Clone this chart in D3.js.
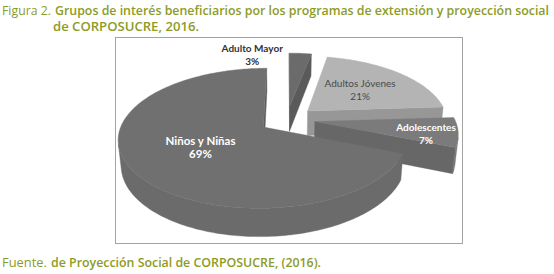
<!DOCTYPE html>
<html lang="es">
<head>
<meta charset="UTF-8">
<title>Figura 2</title>
<script src="https://d3js.org/d3.v7.min.js"></script>
<style>
  body { margin: 0; background: #fff; }
  svg { display: block; }
</style>
</head>
<body>
<div id="chart"></div>
<script>
const categories = ["Adulto Mayor", "Adultos Jóvenes", "Adolescentes", "Niños y Niñas"];
const values = [3, 21, 7, 69];
const percentLabels = ["3%", "21%", "7%", "69%"];

const topColors = ["#6b6b6b", "#b4b4b4", "#7b7b7b", "#707070"];
const labelColors = ["#333333", "#4a4a4a", "#ffffff", "#ffffff"];
const labelWeights = ["bold", "normal", "bold", "bold"];
const labelRadius = [1.0, 0.55, 0.78, 0.5];
const labelShift = [0, 0, 3, 0];

const width = 554, height = 274;
const olive = "#8d9b27";

const svg = d3.select("#chart").append("svg")
    .attr("width", width)
    .attr("height", height);

// title
svg.append("text")
    .attr("x", 2).attr("y", 14.5)
    .attr("fill", olive)
    .style("font-family", "'Open Sans', sans-serif")
    .style("font-size", "12px")
    .attr("textLength", 49)
    .attr("lengthAdjust", "spacingAndGlyphs")
    .text("Figura 2.");

svg.append("text")
    .attr("x", 55).attr("y", 14.5)
    .attr("fill", olive)
    .attr("font-weight", 600)
    .style("font-family", "'Open Sans', sans-serif")
    .style("font-size", "12px")
    .attr("textLength", 494)
    .attr("lengthAdjust", "spacingAndGlyphs")
    .text("Grupos de interés beneficiarios por los programas de extensión y proyección social");

svg.append("text")
    .attr("x", 53).attr("y", 31)
    .attr("fill", olive)
    .attr("font-weight", 600)
    .style("font-family", "'Open Sans', sans-serif")
    .style("font-size", "12px")
    .attr("textLength", 146)
    .attr("lengthAdjust", "spacingAndGlyphs")
    .text("de CORPOSUCRE, 2016.");

// footer
svg.append("text")
    .attr("x", 2).attr("y", 267)
    .attr("fill", olive)
    .style("font-family", "'Open Sans', sans-serif")
    .style("font-size", "12px")
    .attr("textLength", 45)
    .attr("lengthAdjust", "spacingAndGlyphs")
    .text("Fuente.");

svg.append("text")
    .attr("x", 51).attr("y", 267)
    .attr("fill", olive)
    .attr("font-weight", 600)
    .style("font-family", "'Open Sans', sans-serif")
    .style("font-size", "12px")
    .attr("textLength", 270)
    .attr("lengthAdjust", "spacingAndGlyphs")
    .text("de Proyección Social de CORPOSUCRE, (2016).");

// chart frame
svg.append("rect")
    .attr("x", 115.5).attr("y", 37.5)
    .attr("width", 347).attr("height", 206)
    .attr("fill", "none")
    .attr("stroke", "#a3a3a3")
    .attr("stroke-width", 1);

// 3D projection of the pie
const cam = { phi: 28 * Math.PI / 180, D: 5.6, F: 785, cx: 287, cy: 119.5 };
const thick = 0.205, explode = 0.2;
const camPos = [0, cam.D * Math.sin(cam.phi), cam.D * Math.cos(cam.phi)];

function project(x, y, z) {
    const c = Math.cos(cam.phi), s = Math.sin(cam.phi);
    const yc = y * c - z * s;
    const zc = y * s + z * c;
    const k = cam.F / (cam.D - zc);
    return [cam.cx + x * k, cam.cy - yc * k];
}

function visible(normal, p) {
    const v = [camPos[0] - p[0], camPos[1] - p[1], camPos[2] - p[2]];
    return normal[0] * v[0] + normal[1] * v[1] + normal[2] * v[2] > 0;
}

const pie = d3.pie().sort(null).value(d => d)(values);
const line = d3.line();

const slices = pie.map((a, i) => {
    const mid = (a.startAngle + a.endAngle) / 2;
    return {
        i, a0: a.startAngle, a1: a.endAngle, mid,
        ox: explode * Math.sin(mid), oz: -explode * Math.cos(mid)
    };
});

function pt(s, r, th, y) {
    return [s.ox + r * Math.sin(th), y, s.oz - r * Math.cos(th)];
}

const g = svg.append("g");

// far slices first
slices.slice().sort((p, q) => p.oz - q.oz).forEach(s => {
    const base = d3.color(topColors[s.i]);
    const sg = g.append("g");

    // radial faces
    [[s.a0, [-Math.cos(s.a0), 0, -Math.sin(s.a0)]],
     [s.a1, [Math.cos(s.a1), 0, Math.sin(s.a1)]]].forEach(([th, n]) => {
        const c = pt(s, 0, 0, 0), o = pt(s, 1, th, 0);
        const ctr = [(c[0] + o[0]) / 2, -thick / 2, (c[2] + o[2]) / 2];
        if (!visible(n, ctr)) return;
        const poly = [pt(s, 0, 0, 0), pt(s, 1, th, 0), pt(s, 1, th, -thick), pt(s, 0, 0, -thick)]
            .map(p => project(...p));
        sg.append("path").attr("d", line(poly) + "Z")
            .attr("fill", base.darker(0.5))
            .attr("stroke", base.darker(0.5)).attr("stroke-width", 0.4);
    });

    // outer wall, visible runs only
    const n = Math.max(8, Math.ceil((s.a1 - s.a0) / 0.02));
    let run = [];
    const runs = [];
    for (let k = 0; k < n; k++) {
        const t0 = s.a0 + (s.a1 - s.a0) * k / n;
        const t1 = s.a0 + (s.a1 - s.a0) * (k + 1) / n;
        const tm = (t0 + t1) / 2;
        const vis = visible([Math.sin(tm), 0, -Math.cos(tm)], pt(s, 1, tm, -thick / 2));
        if (vis) {
            if (!run.length) run.push(t0);
            run.push(t1);
        } else if (run.length) { runs.push(run); run = []; }
    }
    if (run.length) runs.push(run);
    runs.forEach(r => {
        const top = r.map(t => project(...pt(s, 1, t, 0)));
        const bot = r.slice().reverse().map(t => project(...pt(s, 1, t, -thick)));
        sg.append("path").attr("d", line(top.concat(bot)) + "Z")
            .attr("fill", base.darker(0.12))
            .attr("stroke", base.darker(0.12)).attr("stroke-width", 0.4);
    });

    // top face
    const arcPts = d3.range(n + 1).map(k => s.a0 + (s.a1 - s.a0) * k / n)
        .map(t => project(...pt(s, 1, t, 0)));
    const topPoly = [project(...pt(s, 0, 0, 0))].concat(arcPts);
    sg.append("path").attr("d", line(topPoly) + "Z")
        .attr("fill", base)
        .attr("stroke", base).attr("stroke-width", 0.4);
});

// labels
slices.forEach(s => {
    const i = s.i;
    let [x, y] = project(...pt(s, labelRadius[i], s.mid, 0));
    if (values[i] < 5) {
        // small slice: label sits outside, left of the arc top
        [x, y] = project(...pt(s, 1, s.a0, 0));
        x -= 37; y += 1;
    }
    y += labelShift[i];
    const t = g.append("text")
        .attr("text-anchor", "middle")
        .attr("fill", labelColors[i])
        .attr("font-weight", labelWeights[i])
        .style("font-family", "Lato, 'Open Sans', sans-serif")
        .style("font-size", i === 3 ? "11.5px" : "10px");
    t.append("tspan").attr("x", x).attr("y", y - 2).text(categories[i]);
    t.append("tspan").attr("x", x).attr("y", y + 11).text(percentLabels[i]);
});
</script>
</body>
</html>
